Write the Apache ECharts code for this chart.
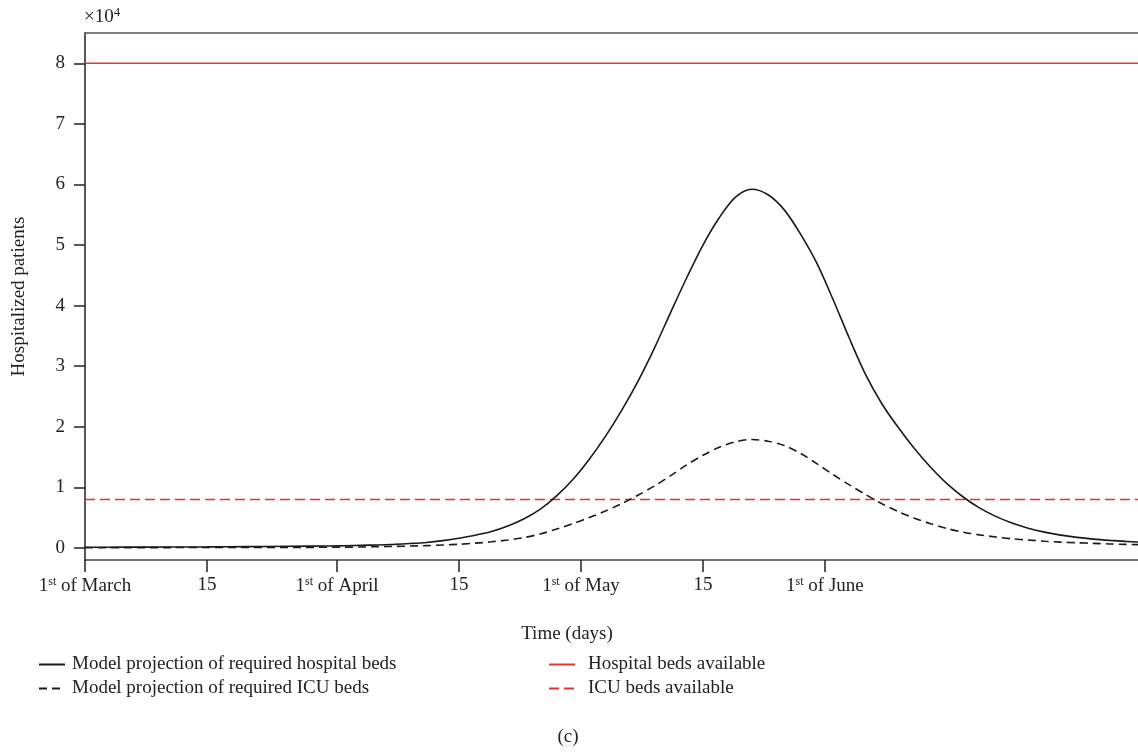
<!DOCTYPE html>
<html>
<head>
<meta charset="utf-8">
<script src="https://cdn.jsdelivr.net/npm/echarts@6/dist/echarts.min.js"></script>
<style>
html,body{margin:0;padding:0;background:#fff;}
#c{width:1138px;height:754px;}
</style>
</head>
<body>
<div id="c"></div>
<script>
// Days since 1st of March
const days = [0,5,10,15,20,25,30,32,34,36,38,40,42,44,46,48,50,52,54,56,58,60,62,64,66,68,70,72,74,76,78,80,82,84,86,88,90,92,94,96,98,100,102,104,106,108,110,112,114,116,118,120,122,124,126,128,129.5];
// Values in units of 10^4 patients
const hospitalBeds = [0.010,0.012,0.014,0.017,0.021,0.026,0.032,0.036,0.042,0.048,0.058,0.072,0.090,0.12,0.16,0.21,0.27,0.36,0.48,0.64,0.86,1.13,1.46,1.84,2.27,2.75,3.29,3.88,4.46,5.00,5.45,5.79,5.92,5.83,5.58,5.18,4.70,4.10,3.46,2.86,2.38,1.99,1.64,1.33,1.06,0.84,0.66,0.52,0.41,0.325,0.26,0.21,0.173,0.145,0.124,0.107,0.096];
const icuBeds = [0.003,0.004,0.005,0.006,0.007,0.008,0.010,0.012,0.015,0.020,0.024,0.030,0.038,0.048,0.060,0.078,0.10,0.13,0.17,0.23,0.31,0.40,0.50,0.61,0.73,0.87,1.02,1.19,1.37,1.53,1.66,1.75,1.79,1.76,1.69,1.56,1.39,1.21,1.04,0.88,0.73,0.60,0.49,0.40,0.32,0.26,0.215,0.18,0.15,0.13,0.11,0.095,0.085,0.075,0.065,0.058,0.053];
const hospitalAvailable = 8;   // ×10^4
const icuAvailable = 0.8;      // ×10^4
const xTickValues = [0,15,31,46,61,76,91];
const xTickLabels = ['{a|1}{s|st}{a| of March}','15','{a|1}{s|st}{a| of April}','15','{a|1}{s|st}{a| of May}','15','{a|1}{s|st}{a| of June}'];
const yTickValues = [0,1,2,3,4,5,6,7,8];
const xMin = 0, xMax = 129.5, yMin = -0.2, yMax = 8.5;

const FONT = "'Liberation Serif','DejaVu Serif',serif";
const TXT = '#222';

const pair = arr => days.map((d,i)=>[d,arr[i]]);

const chart = echarts.init(document.getElementById('c'), null, {renderer:'canvas'});
chart.setOption({
  animation:false,
  backgroundColor:'#fff',
  grid:{left:85, top:33, right:0, bottom:194, containLabel:false, outerBoundsMode:'none'},
  xAxis:[{
    type:'value', min:xMin, max:xMax,
    axisLine:{show:true, onZero:false, lineStyle:{color:'#444', width:1.5}},
    axisTick:{show:true, length:12, customValues:xTickValues, lineStyle:{color:'#222', width:1.5}},
    axisLabel:{
      customValues:xTickValues, margin:16, color:TXT, fontFamily:FONT, fontSize:19,
      formatter:function(v){ const i = xTickValues.indexOf(v); return i>=0 ? xTickLabels[i] : ''; },
      rich:{
        a:{fontFamily:FONT, fontSize:19, color:TXT},
        s:{fontFamily:FONT, fontSize:12, color:TXT, padding:[0,0,9,0]}
      }
    },
    splitLine:{show:false}
  },{
    type:'value', min:xMin, max:xMax, position:'top',
    axisLine:{show:true, onZero:false, lineStyle:{color:'#555', width:1.5}},
    axisTick:{show:false}, axisLabel:{show:false}, splitLine:{show:false}
  }],
  yAxis:{
    type:'value', min:yMin, max:yMax,
    name:'Hospitalized patients', nameLocation:'middle', nameGap:56, nameMoveOverlap:false,
    nameTextStyle:{fontFamily:FONT, fontSize:19, color:TXT},
    axisLine:{show:true, onZero:false, lineStyle:{color:'#222', width:1.5}},
    axisTick:{show:true, length:11, customValues:yTickValues, lineStyle:{color:'#222', width:1.5}},
    axisLabel:{customValues:yTickValues, margin:20, color:TXT, fontFamily:FONT, fontSize:19},
    splitLine:{show:false}
  },
  legend:[{
    orient:'vertical', left:33, top:650, itemWidth:26, itemHeight:14, itemGap:5,
    itemStyle:{opacity:0},
    data:['Model projection of required hospital beds','Model projection of required ICU beds'],
    textStyle:{fontFamily:FONT, fontSize:19, color:TXT, padding:[0,0,0,2]}
  },{
    orient:'vertical', left:543, top:650, itemWidth:26, itemHeight:14, itemGap:5,
    itemStyle:{opacity:0},
    data:['Hospital beds available','ICU beds available'],
    textStyle:{fontFamily:FONT, fontSize:19, color:TXT, padding:[0,0,0,8]}
  }],
  graphic:[
    {type:'text', left:84, top:6, style:{text:'{a|×10}{s|4}', rich:{a:{fontFamily:FONT,fontSize:19,fill:TXT}, s:{fontFamily:FONT,fontSize:13,fill:TXT,padding:[0,0,10,0]}}}},
    {type:'text', x:567, y:634, style:{text:'Time (days)', font:"19px 'Liberation Serif', serif", fill:TXT, align:'center', verticalAlign:'middle'}},
    {type:'text', x:568, y:737, style:{text:'(c)', font:"19px 'Liberation Serif', serif", fill:TXT, align:'center', verticalAlign:'middle'}}
  ],
  series:[
    {name:'Model projection of required hospital beds', type:'line', data:pair(hospitalBeds), smooth:0.3, symbol:'none',
     lineStyle:{color:'#1a1a1a', width:1.6}, itemStyle:{color:'#1a1a1a'}, z:5},
    {name:'Model projection of required ICU beds', type:'line', data:pair(icuBeds), smooth:0.3, symbol:'none',
     lineStyle:{color:'#1a1a1a', width:1.6, type:[8,5]}, itemStyle:{color:'#1a1a1a'}, z:5},
    {name:'Hospital beds available', type:'line', data:[[xMin,hospitalAvailable],[xMax,hospitalAvailable]], symbol:'none',
     lineStyle:{color:'#e2352c', width:1.6}, itemStyle:{color:'#e2352c'}, z:4},
    {name:'ICU beds available', type:'line', data:[[xMin,icuAvailable],[xMax,icuAvailable]], symbol:'none',
     lineStyle:{color:'#e2352c', width:1.6, type:[10,5]}, itemStyle:{color:'#e2352c'}, z:4}
  ]
});
</script>
</body>
</html>
